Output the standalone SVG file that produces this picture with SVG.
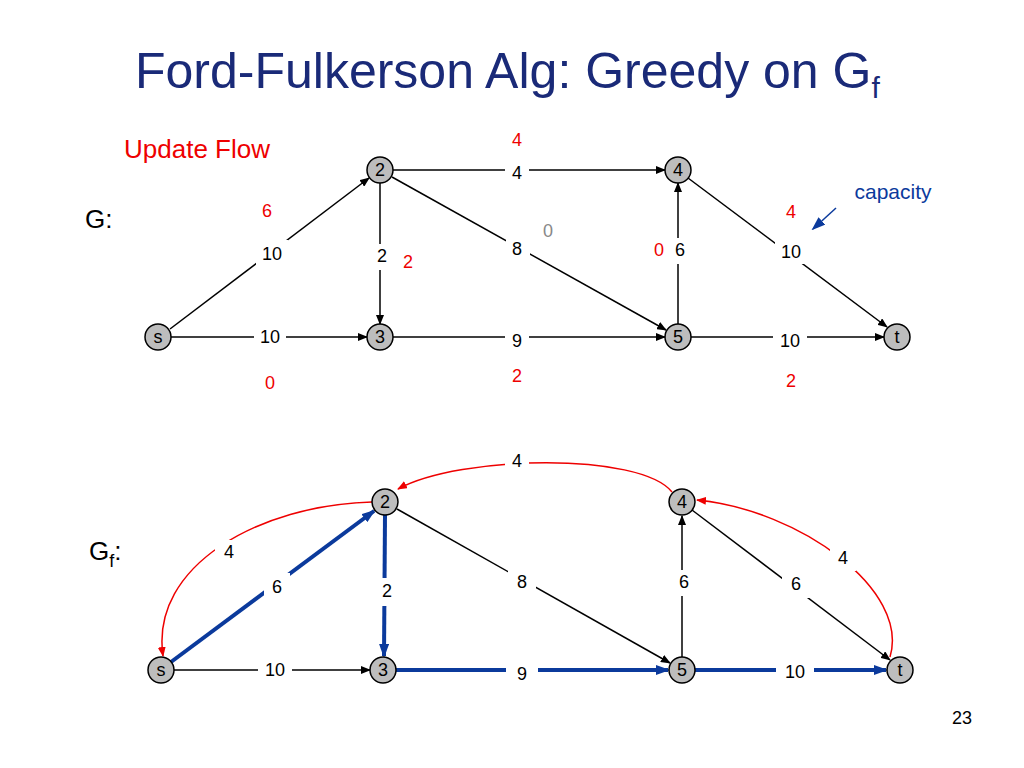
<svg xmlns="http://www.w3.org/2000/svg" width="1024" height="768" viewBox="0 0 1024 768">
<style>
text{font-family:"Liberation Sans",Arial,sans-serif}
.n circle{fill:#bdbdbd;stroke:#000;stroke-width:1.5}
.n text{font-size:18px;text-anchor:middle}
.e{stroke:#000;stroke-width:1.5;fill:none;marker-end:url(#ab)}
.b{stroke:#0b3a9c;stroke-width:4;fill:none;marker-end:url(#abl)}
.r{stroke:#e00;stroke-width:1.5;fill:none;marker-end:url(#ar)}
.l{font-size:18px;text-anchor:middle}
.lr{font-size:18px;text-anchor:middle;fill:#e00}
.bg{fill:#fff}
</style>
<defs>
<marker id="ab" markerWidth="10" markerHeight="8" refX="9" refY="4" orient="auto" markerUnits="userSpaceOnUse"><path d="M0,0L10,4L0,8z"/></marker>
<marker id="abl" markerWidth="14" markerHeight="10" refX="12" refY="5" orient="auto" markerUnits="userSpaceOnUse"><path d="M0,0L14,5L0,10z" fill="#0b3a9c"/></marker>
<marker id="ar" markerWidth="10" markerHeight="8" refX="9" refY="4" orient="auto" markerUnits="userSpaceOnUse"><path d="M0,0L10,4L0,8z" fill="#e00"/></marker>
</defs>
<text x="135" y="88" font-size="50" fill="#1a2a78">Ford-Fulkerson Alg: Greedy on G<tspan font-size="30" dy="10">f</tspan></text>
<text x="124" y="158" font-size="26" fill="#e00">Update Flow</text>
<text x="85" y="228" font-size="26">G:</text>
<text x="89" y="560" font-size="26">G<tspan font-size="18" dy="7">f</tspan><tspan dy="-7">:</tspan></text>
<text x="952" y="724" font-size="18">23</text>
<text x="893" y="199" font-size="21" fill="#0b3a9c" text-anchor="middle">capacity</text>
<line x1="836" y1="208" x2="813" y2="229" stroke="#0b3a9c" stroke-width="1.5" marker-end="url(#abl)"/>
<g id="connectors">
<line class="e" x1="393" y1="170" x2="665" y2="170"/>
<line class="e" x1="170" y1="329" x2="369" y2="178"/>
<line class="e" x1="380" y1="183" x2="380" y2="324"/>
<line class="e" x1="392" y1="177" x2="666" y2="330"/>
<line class="e" x1="678" y1="324" x2="678" y2="183"/>
<line class="e" x1="688" y1="178" x2="887" y2="327"/>
<line class="e" x1="171" y1="337" x2="367" y2="337"/>
<line class="e" x1="393" y1="337" x2="665" y2="337"/>
<line class="e" x1="691" y1="337" x2="884" y2="337"/>
<rect class="bg" x="505" y="158" width="24" height="26"/>
<rect class="bg" x="256" y="240" width="32" height="26"/>
<rect class="bg" x="370" y="244" width="22" height="26"/>
<rect class="bg" x="506" y="236" width="24" height="26"/>
<rect class="bg" x="668" y="238" width="22" height="26"/>
<rect class="bg" x="775" y="238" width="32" height="26"/>
<rect class="bg" x="254" y="324" width="32" height="26"/>
<rect class="bg" x="505" y="326" width="24" height="26"/>
<rect class="bg" x="773" y="326" width="34" height="26"/>
<path class="r" d="M672,492 C640,452 460,455 398,489"/>
<path class="r" d="M372,502 C260,505 150,565 163,656"/>
<path class="r" d="M890,657 C910,590 800,510 697,500"/>
<line class="e" x1="397" y1="509" x2="670" y2="663"/>
<line class="e" x1="682" y1="657" x2="682" y2="516"/>
<line class="e" x1="692" y1="510" x2="890" y2="660"/>
<line class="e" x1="174" y1="670" x2="370" y2="670"/>
<line class="b" x1="171" y1="662" x2="374" y2="511"/>
<line class="b" x1="385" y1="515" x2="384" y2="656"/>
<line class="b" x1="396" y1="670" x2="668" y2="670"/>
<line class="b" x1="695" y1="670" x2="886" y2="670"/>
<rect class="bg" x="505" y="448" width="24" height="26"/>
<rect class="bg" x="215" y="540" width="26" height="26"/>
<rect class="bg" x="830" y="545" width="26" height="26"/>
<rect class="bg" x="264" y="573" width="26" height="28"/>
<rect class="bg" x="374" y="578" width="26" height="28"/>
<rect class="bg" x="508" y="570" width="28" height="26"/>
<rect class="bg" x="670" y="570" width="26" height="26"/>
<rect class="bg" x="782" y="572" width="28" height="26"/>
<rect class="bg" x="258" y="656" width="34" height="28"/>
<rect class="bg" x="506" y="658" width="32" height="28"/>
<rect class="bg" x="776" y="658" width="38" height="28"/>
</g>
<g id="labels">
<text class="l" x="517" y="179">4</text><text class="lr" x="517" y="146">4</text>
<text class="l" x="272" y="260">10</text><text class="lr" x="267" y="217">6</text>
<text class="l" x="382" y="262">2</text><text class="lr" x="408" y="268">2</text>
<text class="l" x="517" y="255">8</text><text x="548" y="237" font-size="18" text-anchor="middle" fill="#888">0</text>
<text class="l" x="680" y="256">6</text><text class="lr" x="659" y="256">0</text>
<text class="l" x="791" y="258">10</text><text class="lr" x="791" y="218">4</text>
<text class="l" x="270" y="343">10</text><text class="lr" x="270" y="389">0</text>
<text class="l" x="517" y="347">9</text><text class="lr" x="517" y="382">2</text>
<text class="l" x="790" y="347">10</text><text class="lr" x="791" y="387">2</text>
<text class="l" x="517" y="467">4</text>
<text class="l" x="229" y="558">4</text>
<text class="l" x="843" y="564">4</text>
<text class="l" x="277" y="593">6</text>
<text class="l" x="387" y="597">2</text>
<text class="l" x="522" y="588">8</text>
<text class="l" x="684" y="588">6</text>
<text class="l" x="796" y="590">6</text>
<text class="l" x="275" y="676">10</text>
<text class="l" x="522" y="680">9</text>
<text class="l" x="795" y="678">10</text>
</g>
<g id="n2" class="n"><circle cx="380" cy="170" r="13"/><text x="380" y="176">2</text></g>
<g id="n4" class="n"><circle cx="678" cy="170" r="13"/><text x="678" y="176">4</text></g>
<g id="ns" class="n"><circle cx="158" cy="337" r="13"/><text x="158" y="343">s</text></g>
<g id="n3" class="n"><circle cx="380" cy="337" r="13"/><text x="380" y="343">3</text></g>
<g id="n5" class="n"><circle cx="678" cy="337" r="13"/><text x="678" y="343">5</text></g>
<g id="nt" class="n"><circle cx="897" cy="337" r="13"/><text x="897" y="343">t</text></g>
<g id="fn2" class="n"><circle cx="385" cy="502" r="13"/><text x="385" y="508">2</text></g>
<g id="fn4" class="n"><circle cx="682" cy="502" r="13"/><text x="682" y="508">4</text></g>
<g id="fns" class="n"><circle cx="161" cy="670" r="13"/><text x="161" y="676">s</text></g>
<g id="fn3" class="n"><circle cx="383" cy="670" r="13"/><text x="383" y="676">3</text></g>
<g id="fn5" class="n"><circle cx="682" cy="670" r="13"/><text x="682" y="676">5</text></g>
<g id="fnt" class="n"><circle cx="900" cy="670" r="13"/><text x="900" y="676">t</text></g>
</svg>
